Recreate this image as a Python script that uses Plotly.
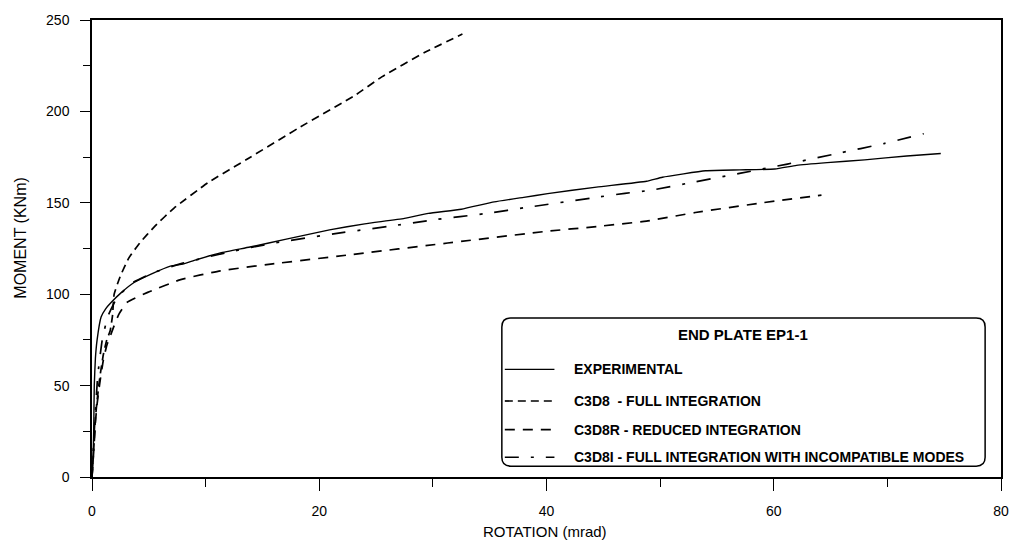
import plotly.graph_objects as go

# Moment-rotation curves for end plate connection EP1-1
exp_rot = [0, 0.1, 0.15, 0.2, 0.3, 0.45, 0.8, 1.2, 1.7, 2.6, 3.7, 5.2, 6.9, 8.0, 9.0,
           11.3, 13.9, 17.0, 20.9, 24.0, 27.5, 29.6, 32.5, 35.4, 38.0, 40.1, 44.4,
           48.8, 50.2, 54.0, 57.0, 60.1, 62.0, 64.7, 68.0, 71.7, 74.7]
exp_mom = [0, 12, 25, 50, 65, 75, 87.5, 92, 95.6, 101, 106.4, 111, 115.4, 116.5, 118.5,
           122.6, 125.8, 130, 135.2, 138.5, 141.5, 144.2, 146.5, 150.5, 153, 155, 158.6,
           161.8, 164, 167.5, 168, 168.5, 170.5, 172, 173.5, 175.6, 177]

c3d8_rot = [0, 0.15, 0.3, 0.45, 0.7, 1.0, 1.3, 1.6, 1.8, 1.95, 2.5, 3.26, 4.2, 5.5,
            7.2, 10.2, 13.9, 18.2, 23.2, 25.5, 29.3, 32.6]
c3d8_mom = [0, 15, 32, 42, 55, 67, 75, 80, 88, 100, 110, 120, 128, 137,
            147, 161, 174.8, 191, 209, 218.9, 232.3, 242.3]

c3d8r_rot = [0, 0.15, 0.3, 0.45, 0.7, 1.0, 1.3, 1.6, 1.9, 2.36, 3.1, 4.9, 7.8, 11.3,
             15.9, 22.6, 31.3, 40.0, 44.4, 48.8, 53.1, 59.0, 64.2]
c3d8r_mom = [0, 14, 30, 40, 52, 64, 72, 77, 82, 89, 95.6, 101, 108, 112.8,
             116.6, 121.5, 128, 134.4, 137, 140, 144.7, 150, 154.2]

c3d8i_rot = [0, 0.2, 0.5, 0.9, 1.4, 2.2, 3.5, 5.5, 8.0, 12.0, 16.0, 21.7, 26.0, 30.3,
             34.5, 38.6, 44.4, 46.9, 49.1, 53.1, 57.1, 61.2, 65.6, 69.7, 73.2]
c3d8i_mom = [0, 25, 55, 75, 88, 98, 106, 112, 117, 123, 128, 133.4, 137, 140.9,
             144, 147.8, 153, 155.2, 156.8, 161.5, 166.2, 171.2, 177, 182.4, 187.8]

series = [
    ("EXPERIMENTAL", exp_rot, exp_mom, "solid", 1.4),
    ("C3D8  - FULL INTEGRATION", c3d8_rot, c3d8_mom, "8px,5px", 1.7),
    ("C3D8R - REDUCED INTEGRATION", c3d8r_rot, c3d8r_mom, "10px,8px", 1.7),
    ("C3D8I - FULL INTEGRATION WITH INCOMPATIBLE MODES", c3d8i_rot, c3d8i_mom,
     "14px,12px,3px,12px", 1.7),
]

FONT = "Arial, Liberation Sans, Helvetica, sans-serif"
W, H = 1021, 545
L, R, T, B = 92, 1008, 14, 477

fig = go.Figure()
for name, xs, ys, dash, w in series:
    fig.add_trace(go.Scatter(x=xs, y=ys, mode="lines", name=name,
                             line=dict(color="black", width=w, dash=dash, shape="spline",
                                       smoothing=0.4),
                             showlegend=False))


def px(x):
    return (x - L) / (R - L)


def py(y):
    return (B - y) / (B - T)


# legend frame with rounded corners
x0, x1, y0, y1, r = 505, 992, 316, 466, 9
path = (f"M {px(x0 + r)} {py(y0)} L {px(x1 - r)} {py(y0)} "
        f"Q {px(x1)} {py(y0)} {px(x1)} {py(y0 + r)} "
        f"L {px(x1)} {py(y1 - r)} Q {px(x1)} {py(y1)} {px(x1 - r)} {py(y1)} "
        f"L {px(x0 + r)} {py(y1)} Q {px(x0)} {py(y1)} {px(x0)} {py(y1 - r)} "
        f"L {px(x0)} {py(y0 + r)} Q {px(x0)} {py(y0)} {px(x0 + r)} {py(y0)} Z")
shapes = [dict(type="path", path=path, xref="paper", yref="paper",
               line=dict(color="black", width=1.5), fillcolor="white", layer="above")]
annotations = [dict(text="<b>END PLATE EP1-1</b>", x=px(748), y=py(333),
                    xref="paper", yref="paper", showarrow=False,
                    font=dict(family=FONT, size=15, color="black"),
                    xanchor="center", yanchor="middle")]
rows = [368, 400, 429, 457]
for (name, _, _, dash, w), ry in zip(series, rows):
    shapes.append(dict(type="line", xref="paper", yref="paper",
                       x0=px(508), x1=px(558), y0=py(ry), y1=py(ry),
                       line=dict(color="black", width=w, dash=dash), layer="above"))
    annotations.append(dict(text=f"<b>{name}</b>", x=px(576), y=py(ry),
                            xref="paper", yref="paper", showarrow=False,
                            font=dict(family=FONT, size=14, color="black"),
                            xanchor="left", yanchor="middle"))

# axis titles
annotations.append(dict(text="MOMENT (KNm)", x=px(20), y=py(235), xref="paper",
                        yref="paper", showarrow=False, textangle=-90,
                        font=dict(family=FONT, size=16, color="black"),
                        xanchor="center", yanchor="middle"))
annotations.append(dict(text="ROTATION (mrad)", x=px(548), y=py(532), xref="paper",
                        yref="paper", showarrow=False,
                        font=dict(family=FONT, size=15, color="black"),
                        xanchor="center", yanchor="middle"))

fig.update_layout(
    width=W, height=H,
    margin=dict(l=L, r=W - R, t=T, b=H - B),
    paper_bgcolor="white", plot_bgcolor="white",
    font=dict(family=FONT, size=14, color="black"),
    shapes=shapes, annotations=annotations,
    xaxis=dict(range=[0, 80], tickvals=[0, 20, 40, 60, 80], ticks="outside",
               ticklen=12, tickwidth=1.2, tickcolor="black", ticklabelstandoff=8,
               minor=dict(tickvals=[10, 30, 50, 70], ticks="outside", ticklen=8,
                          tickwidth=1.2, tickcolor="black"),
               showline=True, linecolor="black", linewidth=1.5, mirror=True,
               showgrid=False, zeroline=False),
    yaxis=dict(range=[0, 250], tickvals=[0, 50, 100, 150, 200, 250], ticks="outside",
               ticklen=10, tickwidth=1.2, tickcolor="black", ticklabelstandoff=8,
               minor=dict(tickvals=[25, 75, 125, 175, 225], ticks="outside", ticklen=7,
                          tickwidth=1.2, tickcolor="black"),
               showline=True, linecolor="black", linewidth=1.5, mirror=True,
               showgrid=False, zeroline=False),
)

fig.write_html("out.html")
